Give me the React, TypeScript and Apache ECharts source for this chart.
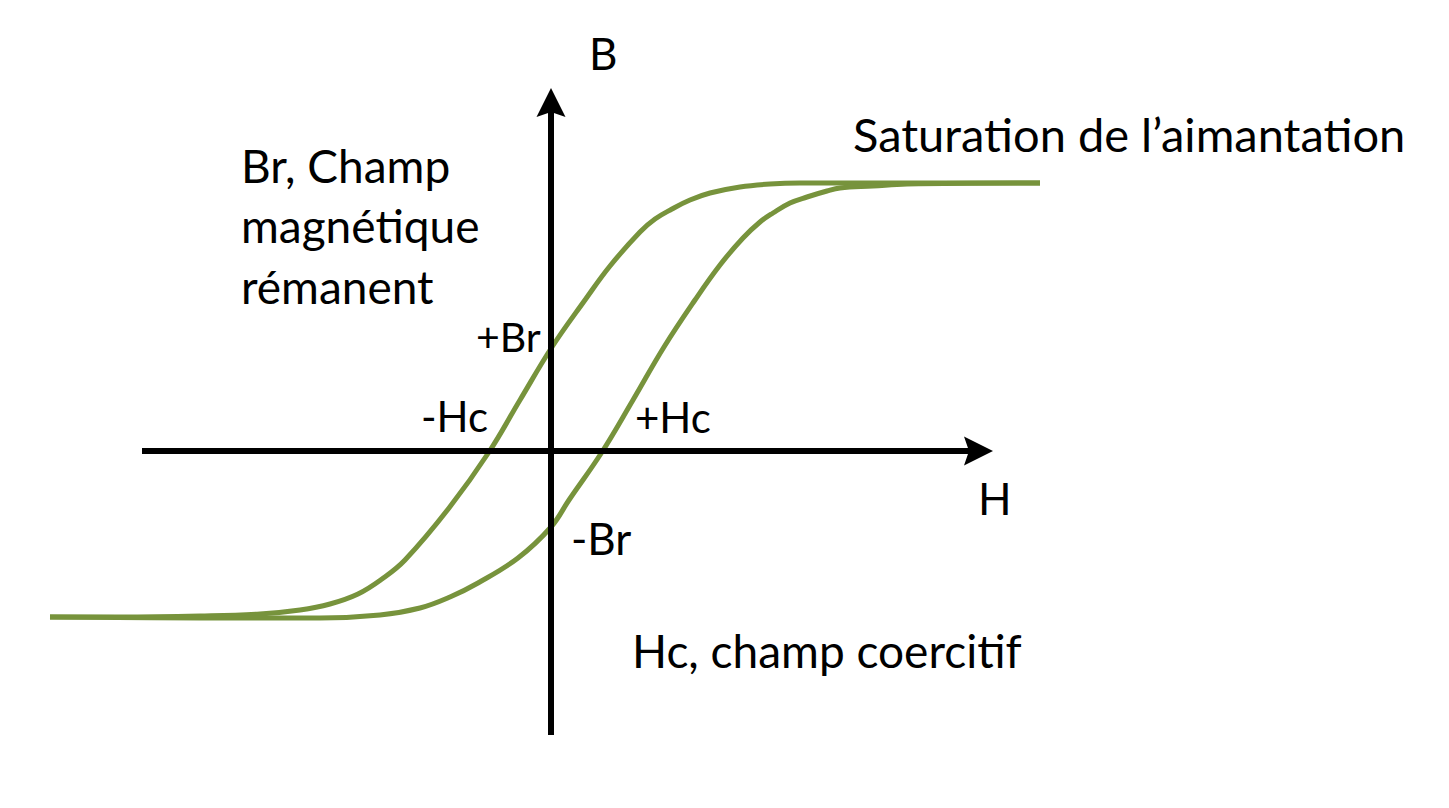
import React, { useEffect, useRef } from "react";
import * as echarts from "echarts";

// Hysteresis loop: H (field) vs B (induction), arbitrary units
const upperH = [489, 349, 249, 219, 189, 159, 139, 121, 104, 89, 59, 34, 1, -31, -62, -102, -146, -169, -193, -221, -251, -291, -351, -431, -501];
const upperB = [268, 268, 268, 267, 264, 258, 251, 242, 232, 219, 185, 151, 104, 51, -1, -57, -109, -128, -143, -153, -159, -163, -165, -166, -166];
const lowerH = [-501, -351, -231, -171, -131, -101, -73, -33, 0, 18, 51, 82, 113, 144, 169, 192, 209, 222, 239, 256, 276, 289, 322, 356, 489];
const lowerB = [-166, -167, -167, -164, -157, -146, -132, -107, -76, -49, -1, 51, 104, 151, 186, 213, 229, 238, 248, 254, 260, 263, 265, 267, 268];

// Axis extents (H axis and B axis lines)
const hAxisRange = [-409, 427.5];
const bAxisRange = [-284, 348.5];

const FONT = "Lato, 'Liberation Sans', sans-serif";
const ARROW = "path://M14,0 L28,29 L14,24 L0,29 Z";

export default function App() {
  const ref = useRef<HTMLDivElement>(null);
  useEffect(() => {
    if (!ref.current) return;
    const chart = echarts.init(ref.current, null, { renderer: "svg" });
    const upper = upperH.map((h, i) => [h, upperB[i]]);
    const lower = lowerH.map((h, i) => [h, lowerB[i]]);
    const txt = (x: number, y: number, text: string, size: number) => ({
      type: "text",
      x,
      y,
      z: 10,
      style: {
        text,
        fill: "#000",
        font: `${size}px ${FONT}`,
        align: "left",
        verticalAlign: "middle",
      },
    });
    chart.setOption({
      animation: false,
      backgroundColor: "#fff",
      grid: { left: 0, right: 0, top: 0, bottom: 0, containLabel: false },
      xAxis: { type: "value", min: -551, max: 898, show: false },
      yAxis: { type: "value", min: -357, max: 451, show: false },
      series: [
        {
          type: "line",
          data: [],
          z: 1,
          silent: true,
          markLine: {
            silent: true,
            animation: false,
            symbol: ["none", ARROW],
            symbolSize: 29,
            label: { show: false },
            itemStyle: { color: "#000" },
            lineStyle: { color: "#000", width: 6, type: "solid" },
            emphasis: { disabled: true },
            data: [
              [{ coord: [hAxisRange[0], 0] }, { coord: [hAxisRange[1], 0] }],
              [{ coord: [0, bAxisRange[0]] }, { coord: [0, bAxisRange[1]] }],
            ],
          },
        },
        {
          type: "line",
          data: upper,
          z: 3,
          smooth: 0.4,
          showSymbol: false,
          silent: true,
          lineStyle: { color: "#77933C", width: 5 },
        },
        {
          type: "line",
          data: lower,
          z: 3,
          smooth: 0.4,
          showSymbol: false,
          silent: true,
          lineStyle: { color: "#77933C", width: 5 },
        },
      ],
      graphic: [
        txt(589, 53, "B", 44),
        txt(978, 498, "H", 44),
        txt(853, 134, "Saturation de l\u2019aimantation", 47),
        txt(241, 165, "Br, Champ", 46),
        txt(241, 225, "magnétique", 46),
        txt(241, 286, "rémanent", 46),
        txt(476, 336, "+Br", 41),
        txt(421, 416, "-Hc", 42),
        txt(635, 417, "+Hc", 42),
        txt(571, 538, "-Br", 44),
        txt(632, 650, "Hc, champ coercitif", 46),
      ],
    });
    return () => chart.dispose();
  }, []);
  return (
    <div
      ref={ref}
      style={{ position: "fixed", left: 0, top: 0, width: 1449, height: 808, background: "#fff" }}
    />
  );
}
